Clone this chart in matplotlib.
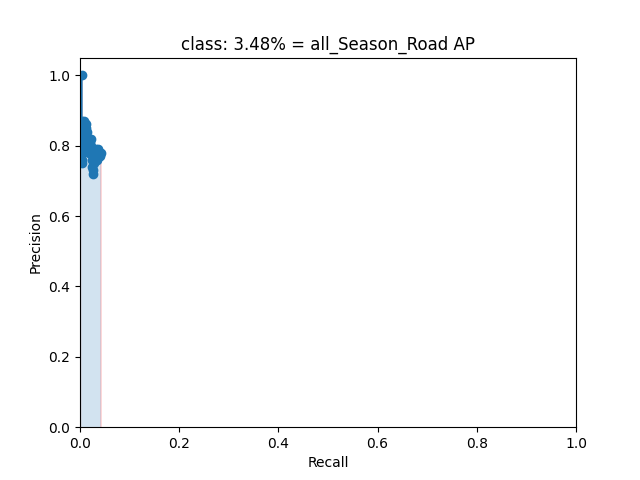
import matplotlib
matplotlib.use("Agg")
import matplotlib.pyplot as plt

class_name = "all_Season_Road"
ap_text = "3.48%"
rec = [0.0032, 0.0032, 0.0036, 0.0040, 0.0045, 0.0050, 0.0056, 0.0063, 0.0072, 0.0081, 0.0090,
       0.0099, 0.0108, 0.0117, 0.0126, 0.0135, 0.0144, 0.0153, 0.0162, 0.0171, 0.0180,
       0.0189, 0.0198, 0.0207, 0.0216, 0.0225, 0.0234, 0.0243, 0.0252, 0.0261, 0.0270,
       0.0279, 0.0288, 0.0297, 0.0306, 0.0315, 0.0324, 0.0333, 0.0342, 0.0351, 0.0360,
       0.0369, 0.0378, 0.0387, 0.0396, 0.0405, 0.0414]
prec = [1.00, 0.87, 0.80, 0.76, 0.75, 0.78, 0.80, 0.83, 0.85, 0.87, 0.86,
        0.84, 0.82, 0.85, 0.86, 0.84, 0.81, 0.79, 0.80, 0.82, 0.80,
        0.78, 0.80, 0.81, 0.82, 0.80, 0.78, 0.76, 0.74, 0.72, 0.73,
        0.75, 0.76, 0.77, 0.78, 0.79, 0.77, 0.76, 0.77, 0.78, 0.79,
        0.78, 0.77, 0.77, 0.78, 0.77, 0.78]

mrec = [0.0] + rec + [1.0]
mprec = [0.0] + prec + [0.0]
for i in range(len(mprec) - 2, -1, -1):
    mprec[i] = max(mprec[i], mprec[i + 1])

fig = plt.figure(figsize=(6.4, 4.8), dpi=100)
plt.plot(rec, prec, '-o')
area_x = mrec[:-1] + [mrec[-2]] + [mrec[-1]]
area_y = mprec[:-1] + [0.0] + [mprec[-1]]
plt.fill_between(area_x, 0, area_y, alpha=0.2, edgecolor='r')
plt.title("class: " + ap_text + " = " + class_name + " AP")
plt.xlabel("Recall")
plt.ylabel("Precision")
axes = plt.gca()
axes.set_xlim([0.0, 1.0])
axes.set_ylim([0.0, 1.05])
fig.savefig("out.png")
